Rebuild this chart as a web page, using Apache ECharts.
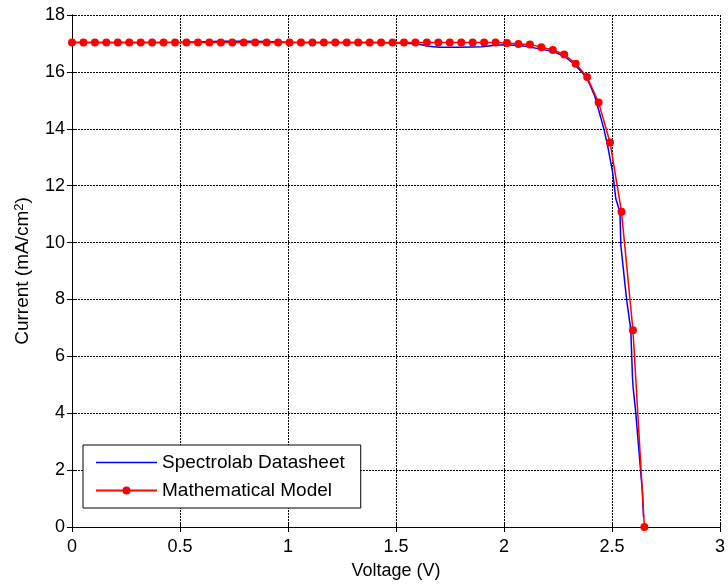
<!DOCTYPE html>
<html>
<head>
<meta charset="utf-8">
<script src="https://cdn.jsdelivr.net/npm/echarts@6/dist/echarts.min.js"></script>
<style>html,body{margin:0;padding:0;background:#fff;}#c{width:728px;height:585px;}</style>
</head>
<body>
<div id="c"></div>
<script>
// Spectrolab datasheet curve (voltage V, current mA/cm2)
var datasheetV = [0,0.1,0.2,0.3,0.4,0.5,0.6,0.7,0.8,0.9,1.0,1.1,1.2,1.3,1.4,1.5,1.6,1.65,1.7,1.8,1.9,1.95,2.0,2.05,2.1,2.17,2.226,2.279,2.328,2.384,2.42,2.444,2.463,2.48,2.503,2.518,2.537,2.541,2.567,2.587,2.595,2.598,2.61,2.626,2.641,2.646];
var datasheetI = [17.03,17.03,17.03,17.03,17.03,17.04,17.06,17.08,17.08,17.07,17.04,17.03,17.03,17.03,17.03,17.02,16.98,16.9,16.87,16.87,16.88,16.93,16.95,16.94,16.9,16.8,16.72,16.55,16.25,15.79,15.15,14.5,13.98,13.4,12.47,11.53,11.07,9.9,8.04,6.93,5.24,4.89,4.02,2.56,1.22,0.35];
// Mathematical model points
var modelV = [0,0.053,0.106,0.159,0.212,0.265,0.318,0.371,0.424,0.477,0.53,0.583,0.636,0.689,0.742,0.795,0.848,0.901,0.954,1.007,1.06,1.113,1.166,1.219,1.272,1.325,1.378,1.431,1.484,1.537,1.59,1.643,1.696,1.749,1.802,1.855,1.908,1.961,2.014,2.067,2.12,2.173,2.226,2.279,2.332,2.385,2.438,2.491,2.544,2.597,2.65];
var modelI = [17.03,17.03,17.03,17.03,17.03,17.03,17.03,17.03,17.03,17.03,17.03,17.03,17.03,17.03,17.03,17.03,17.03,17.03,17.03,17.03,17.03,17.03,17.03,17.03,17.03,17.03,17.03,17.03,17.03,17.03,17.03,17.03,17.03,17.03,17.03,17.03,17.03,17.03,17.02,16.98,16.96,16.87,16.77,16.61,16.29,15.82,14.92,13.52,11.08,6.92,0];
var seriesNames = ['Spectrolab Datasheet','Mathematical Model'];
var xTickLabels = ['0','0.5','1','1.5','2','2.5','3'];
var yTickLabels = ['0','2','4','6','8','10','12','14','16','18'];

function pairs(xs, ys){ var out=[]; for(var i=0;i<xs.length;i++){out.push([xs[i],ys[i]]);} return out; }

var font = 'Liberation Sans, Arial, sans-serif';
var chart = echarts.init(document.getElementById('c'));
var axisCommon = {
  axisLine:{show:true,lineStyle:{color:'#000',width:1}},
  axisTick:{show:true,inside:true,length:5,lineStyle:{color:'#000'}}
};
chart.setOption({
  backgroundColor:'#fff',
  animation:false,
  grid:{left:72,right:3,top:15,bottom:55,show:false},
  legend:{
    orient:'vertical', left:83, top:445,
    data:[
      {name:seriesNames[0], icon:'path://M0,0L61,0L61,1.5L0,1.5Z', itemStyle:{color:'#0000ff'}},
      {name:seriesNames[1]}
    ],
    itemWidth:61, itemHeight:10, itemGap:9,
    padding:[8,16,8,12],
    backgroundColor:'#fff', borderColor:'#000', borderWidth:1,
    textStyle:{fontFamily:font,fontSize:19,color:'#000'}
  },
  xAxis:[
    Object.assign({type:'value',min:0,max:3,interval:0.5,position:'bottom',
      name:'Voltage (V)',nameLocation:'middle',nameGap:35,
      nameTextStyle:{fontFamily:font,fontSize:18,color:'#000'},
      axisLabel:{fontFamily:font,fontSize:18,color:'#000',margin:11,
        formatter:function(v){return xTickLabels[Math.round(v/0.5)];}},
      splitLine:{show:true,lineStyle:{color:'#000',type:[2,1],width:1}}
    }, axisCommon),
    Object.assign({type:'value',min:0,max:3,interval:0.5,position:'top',
      axisLabel:{show:false},splitLine:{show:false}}, axisCommon)
  ],
  yAxis:[
    Object.assign({type:'value',min:0,max:18,interval:2,position:'left',
      name:'Current (mA/cm{sup|2})',nameLocation:'middle',nameGap:40,
      nameTextStyle:{fontFamily:font,fontSize:19,color:'#000',
        rich:{sup:{fontFamily:font,fontSize:13,color:'#000',verticalAlign:'top',padding:[0,0,6,0]}}},
      axisLabel:{fontFamily:font,fontSize:18,color:'#000',margin:7,
        formatter:function(v){return yTickLabels[Math.round(v/2)];}},
      splitLine:{show:true,lineStyle:{color:'#000',type:[2,1],width:1}}
    }, axisCommon),
    Object.assign({type:'value',min:0,max:18,interval:2,position:'right',
      axisLabel:{show:false},splitLine:{show:false}}, axisCommon)
  ],
  series:[
    {name:seriesNames[0],type:'line',data:pairs(datasheetV,datasheetI),
      showSymbol:false,symbol:'none',lineStyle:{color:'#0000ff',width:1.5},itemStyle:{color:'#0000ff'},z:2,clip:false},
    {name:seriesNames[1],type:'line',data:pairs(modelV,modelI),
      symbol:'circle',symbolSize:8,lineStyle:{color:'#ff0000',width:1.5},itemStyle:{color:'#ff0000'},z:3,clip:false}
  ]
});
</script>
</body>
</html>
